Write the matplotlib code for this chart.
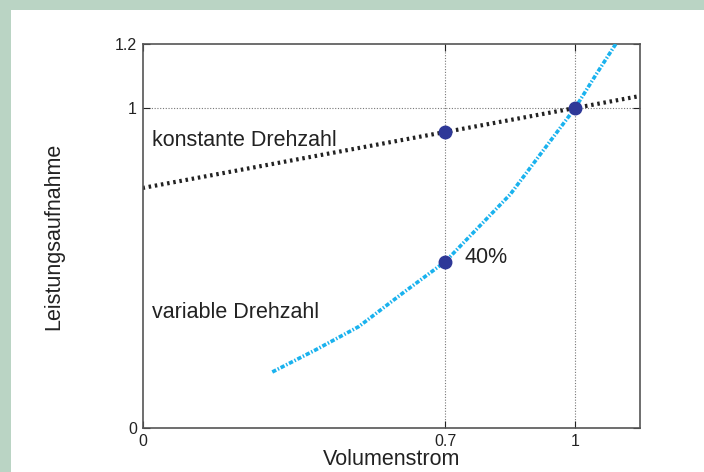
import numpy as np
import matplotlib
matplotlib.use("Agg")
from matplotlib import pyplot as plt
from matplotlib.patches import Rectangle

# Werte
x_konst = [0.0, 1.15]
y_konst = [0.75, 1.0375]

x_var = [0.30, 0.40, 0.50, 0.60, 0.70, 0.80, 0.85, 0.90, 1.00, 1.05, 1.094]
y_var = [0.175, 0.244, 0.317, 0.42, 0.52, 0.66, 0.73, 0.82, 1.00, 1.108, 1.20]

x_pts = [0.7, 0.7, 1.0]
y_pts = [0.925, 0.52, 1.0]

x_ticks = [0, 0.7, 1]
x_ticklabels = ['0', '0.7', '1']
y_ticks = [0, 1, 1.2]
y_ticklabels = ['0', '1', '1.2']

plt.rcParams['font.family'] = ['Liberation Sans', 'DejaVu Sans']

W, H = 704, 472
fig = plt.figure(figsize=(W / 100, H / 100), dpi=100, facecolor='white')
green = '#bad4c4'
# gruener Rahmen oben und links
fig.patches.append(Rectangle((0, 1 - 10 / H), 1, 10 / H, transform=fig.transFigure,
                             facecolor=green, edgecolor='none', zorder=0))
fig.patches.append(Rectangle((0, 0), 11 / W, 1, transform=fig.transFigure,
                             facecolor=green, edgecolor='none', zorder=0))

ax = fig.add_axes([142.5 / W, 1 - 428 / H, (640 - 142.5) / W, (428 - 44) / H])
ax.set_xlim(0, 1.15)
ax.set_ylim(0, 1.2)

# Hilfslinien
for xv in [0.7, 1.0]:
    ax.axvline(xv, color='#777777', lw=0.8, ls=(0, (1, 1.5)), zorder=1)
ax.axhline(1.0, color='#777777', lw=0.8, ls=(0, (1, 1.5)), zorder=1)

ax.plot(x_konst, y_konst, color='#222222', lw=3, ls=(0, (0.6, 0.9)), zorder=2)
ax.plot(x_var, y_var, color='#1ab2ee', lw=2.6, ls=(0, (1.2, 0.5, 0.4, 0.5)), zorder=3)
ax.plot(x_pts, y_pts, 'o', color='#2e3898', ms=9, zorder=4)

ax.text(0.022, 0.90, 'konstante Drehzahl', fontsize=15.5, color='#222222', va='center')
ax.text(0.022, 0.362, 'variable Drehzahl', fontsize=15.5, color='#222222', va='center')
ax.text(0.745, 0.534, '40%', fontsize=15.5, color='#222222', va='center')

ax.set_xticks(x_ticks)
ax.set_xticklabels(x_ticklabels)
ax.set_yticks(y_ticks)
ax.set_yticklabels(y_ticklabels)
ax.tick_params(direction='in', top=True, right=True, length=5, width=0.8,
               labelsize=11.5, pad=4, colors='#222222')
for s in ax.spines.values():
    s.set_color('#555555')
    s.set_linewidth(1.2)

ax.set_xlabel('Volumenstrom', fontsize=15.5, color='#222222', labelpad=0)
ax.set_ylabel('Leistungsaufnahme', fontsize=15.5, color='#222222')
ax.yaxis.set_label_coords(-0.158, 0.5)

fig.savefig('out.png', dpi=100, facecolor=fig.get_facecolor())
